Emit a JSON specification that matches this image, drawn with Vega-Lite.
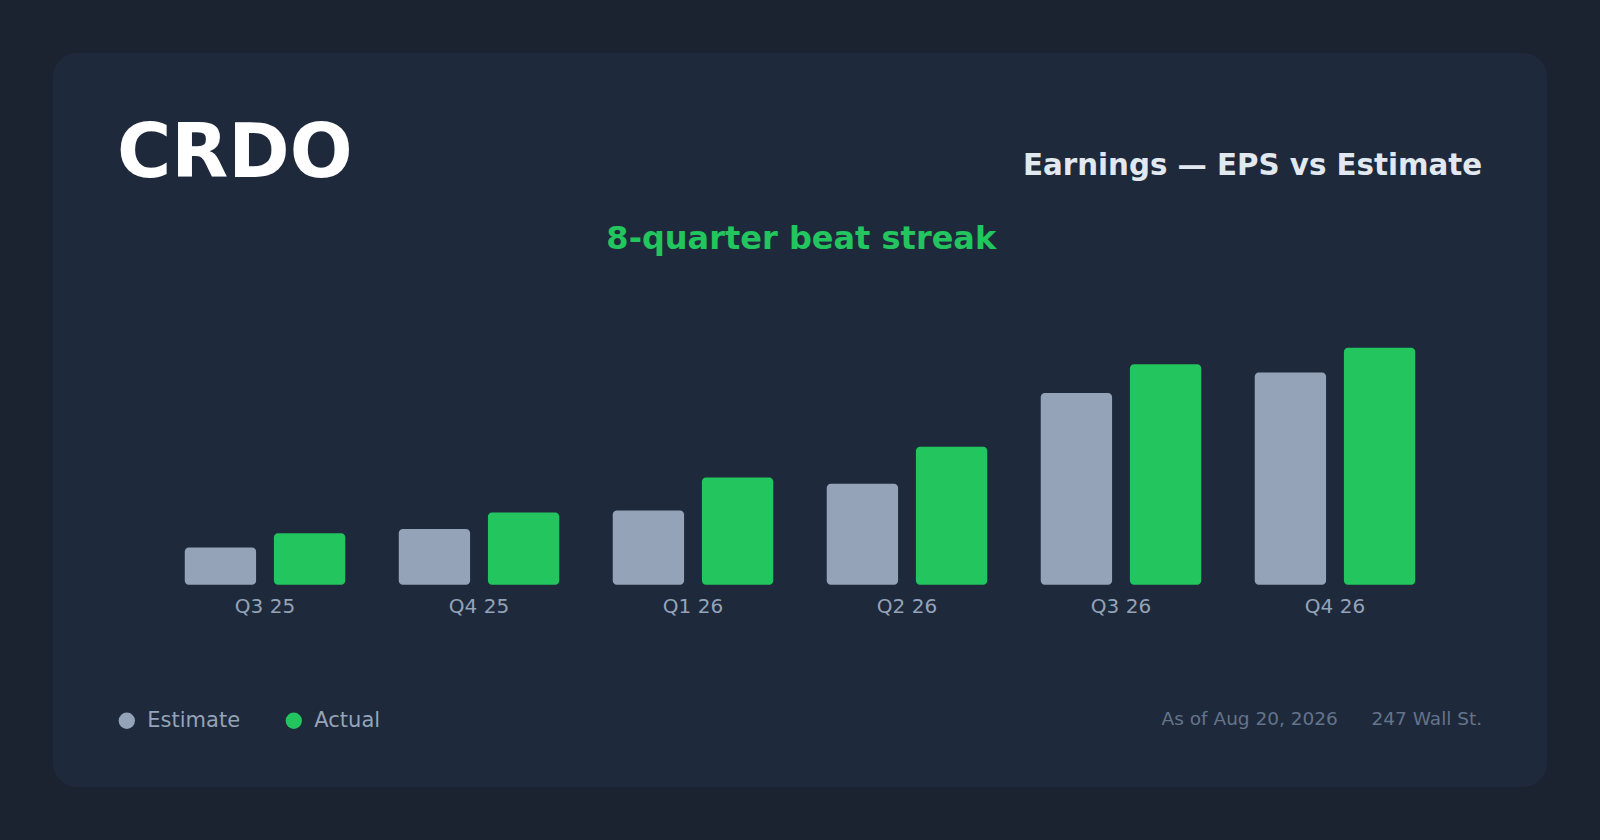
{
  "$schema": "https://vega.github.io/schema/vega-lite/v6.json",
  "autosize": "none",
  "width": 1494,
  "height": 734,
  "padding": {"left": 53, "top": 53, "right": 53, "bottom": 53},
  "background": "#1b2230",
  "title": {
    "text": "CRDO",
    "anchor": "start",
    "frame": "group",
    "orient": "top",
    "offset": 0,
    "baseline": "alphabetic",
    "dx": 64,
    "dy": 197.5,
    "font": "DejaVu Sans",
    "fontSize": 74,
    "fontWeight": "bold",
    "color": "#ffffff"
  },
  "data": {
    "values": [
      {"quarter": "Q3 25", "series": "Estimate", "eps": 0.18},
      {"quarter": "Q3 25", "series": "Actual", "eps": 0.25},
      {"quarter": "Q4 25", "series": "Estimate", "eps": 0.27},
      {"quarter": "Q4 25", "series": "Actual", "eps": 0.35},
      {"quarter": "Q1 26", "series": "Estimate", "eps": 0.36},
      {"quarter": "Q1 26", "series": "Actual", "eps": 0.52},
      {"quarter": "Q2 26", "series": "Estimate", "eps": 0.49},
      {"quarter": "Q2 26", "series": "Actual", "eps": 0.67},
      {"quarter": "Q3 26", "series": "Estimate", "eps": 0.93},
      {"quarter": "Q3 26", "series": "Actual", "eps": 1.07},
      {"quarter": "Q4 26", "series": "Estimate", "eps": 1.03},
      {"quarter": "Q4 26", "series": "Actual", "eps": 1.15}
    ]
  },
  "encoding": {
    "x": {
      "field": "quarter",
      "type": "nominal",
      "sort": null,
      "scale": {"paddingInner": 0.25, "paddingOuter": 0.6157},
      "axis": {
        "orient": "bottom",
        "offset": -202.3,
        "domain": false,
        "ticks": false,
        "tickSize": 0,
        "grid": false,
        "labelAngle": 0,
        "labelFontSize": 20,
        "labelColor": "#94a3b8",
        "labelBaseline": "alphabetic",
        "labelPadding": 28,
        "title": "As of Aug 20, 2026\u2003\u2002 247 Wall St.",
        "titleFontSize": 18.5,
        "titleFontWeight": "normal",
        "titleColor": "#64748b",
        "titleAlign": "right",
        "titleBaseline": "alphabetic",
        "titleAnchor": null,
        "titleX": 1428.7,
        "titleY": 139.3
      }
    },
    "xOffset": {
      "field": "series",
      "type": "nominal",
      "scale": {"domain": ["Estimate", "Actual"], "paddingInner": 0.2, "paddingOuter": 0}
    },
    "color": {
      "field": "series",
      "type": "nominal",
      "scale": {"domain": ["Estimate", "Actual"], "range": ["#94a3b8", "#22c55e"]},
      "legend": {
        "orient": "none",
        "legendX": 63.3,
        "legendY": 657,
        "direction": "horizontal",
        "title": null,
        "symbolType": "circle",
        "symbolSize": 266,
        "symbolStrokeWidth": 0,
        "symbolOpacity": 1,
        "labelFontSize": 21,
        "labelColor": "#94a3b8",
        "labelOffset": 10,
        "columnPadding": 43,
        "padding": 0
      }
    }
  },
  "layer": [
    {
      "transform": [{"filter": "datum.series === 'Estimate'"}],
      "mark": {"type": "bar", "cornerRadius": 4},
      "encoding": {
        "y": {
          "field": "eps",
          "type": "quantitative",
          "scale": {"domain": [-0.982, 2.581], "nice": false, "zero": false},
          "axis": {
            "orient": "left",
            "domain": false,
            "ticks": false,
            "labels": false,
            "grid": false,
            "title": "8-quarter beat streak",
            "titleAngle": 0,
            "titleAlign": "center",
            "titleBaseline": "alphabetic",
            "titleAnchor": null,
            "titleX": 747.8,
            "titleY": 195.7,
            "titleFontSize": 32,
            "titleFontWeight": "bold",
            "titleColor": "#22c55e"
          }
        },
        "y2": {"datum": 0}
      }
    },
    {
      "transform": [{"filter": "datum.series === 'Actual'"}],
      "mark": {"type": "bar", "cornerRadius": 4},
      "encoding": {
        "y": {
          "field": "eps",
          "type": "quantitative",
          "axis": {
            "orient": "right",
            "domain": false,
            "ticks": false,
            "labels": false,
            "grid": false,
            "title": "Earnings \u2014 EPS vs Estimate",
            "titleAngle": 0,
            "titleAlign": "right",
            "titleBaseline": "alphabetic",
            "titleAnchor": null,
            "titleX": -65.3,
            "titleY": 121,
            "titleFontSize": 29.3,
            "titleFontWeight": "bold",
            "titleColor": "#e2e8f0"
          }
        },
        "y2": {"datum": 0}
      }
    }
  ],
  "resolve": {"axis": {"y": "independent"}},
  "config": {
    "font": "DejaVu Sans",
    "view": {"fill": "#1e293b", "stroke": null, "cornerRadius": 24},
    "axis": {"labelFont": "DejaVu Sans", "titleFont": "DejaVu Sans"},
    "legend": {"labelFont": "DejaVu Sans"}
  }
}
